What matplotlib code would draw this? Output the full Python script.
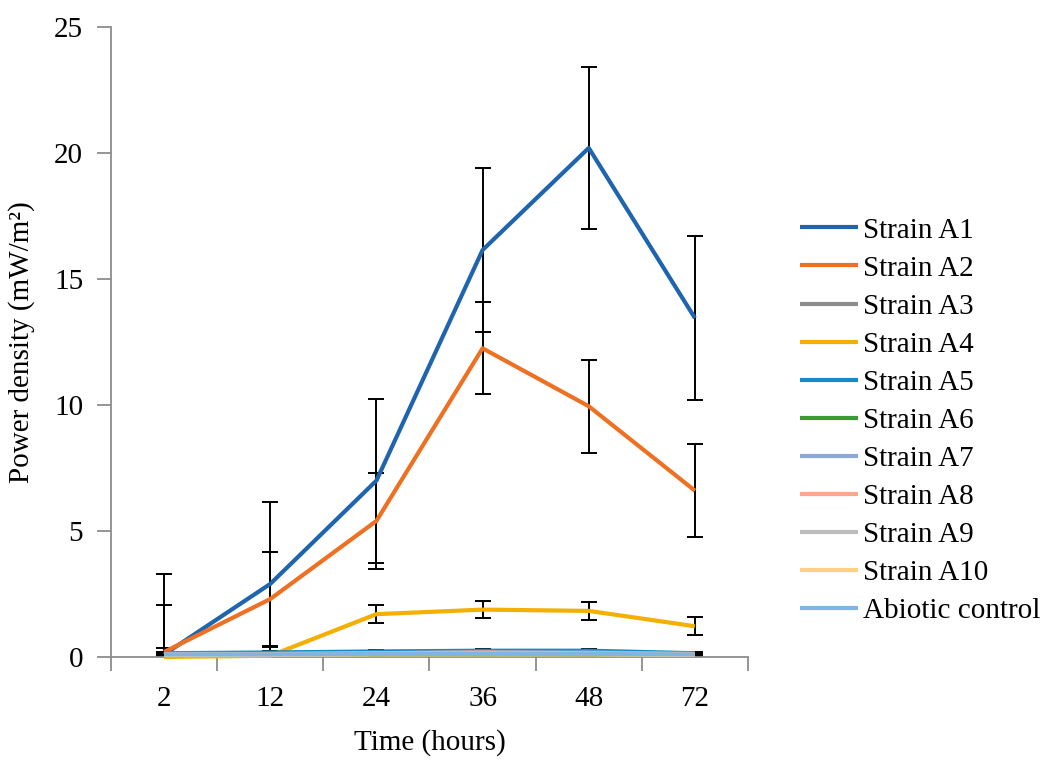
import matplotlib.pyplot as plt
import numpy as np

plt.rcParams['font.family'] = ['Liberation Serif', 'DejaVu Serif']

times = ["2", "12", "24", "36", "48", "72"]

strain_a1 = [0.10, 2.90, 7.00, 16.15, 20.20, 13.45]
strain_a1_err = [3.20, 3.25, 3.25, 3.25, 3.20, 3.25]
strain_a2 = [0.20, 2.30, 5.40, 12.25, 9.95, 6.60]
strain_a2_err = [1.85, 1.85, 1.90, 1.83, 1.85, 1.85]
strain_a3 = [0.15, 0.15, 0.15, 0.15, 0.15, 0.10]
strain_a4 = [0.00, 0.05, 1.70, 1.88, 1.83, 1.22]
strain_a4_err = [0.35, 0.35, 0.35, 0.33, 0.35, 0.35]
strain_a5 = [0.15, 0.18, 0.22, 0.25, 0.25, 0.15]
strain_a6 = [0.10, 0.10, 0.10, 0.10, 0.10, 0.08]
strain_a7 = [0.12, 0.12, 0.15, 0.18, 0.18, 0.12]
strain_a8 = [0.12, 0.12, 0.15, 0.18, 0.15, 0.12]
strain_a9 = [0.10, 0.10, 0.12, 0.12, 0.12, 0.10]
strain_a10 = [0.08, 0.08, 0.10, 0.10, 0.10, 0.08]
abiotic = [0.10, 0.10, 0.12, 0.12, 0.12, 0.10]
small_err = [0.06, 0.06, 0.06, 0.06, 0.06, 0.06]

series = [
    ("Strain A1", strain_a1, strain_a1_err, "#1F64AF"),
    ("Strain A2", strain_a2, strain_a2_err, "#EE7123"),
    ("Strain A3", strain_a3, small_err, "#8E8E8E"),
    ("Strain A4", strain_a4, strain_a4_err, "#F4AF00"),
    ("Strain A5", strain_a5, small_err, "#178BC8"),
    ("Strain A6", strain_a6, small_err, "#3A9B36"),
    ("Strain A7", strain_a7, small_err, "#8CA7D8"),
    ("Strain A8", strain_a8, small_err, "#FFA68A"),
    ("Strain A9", strain_a9, small_err, "#BDBDBD"),
    ("Strain A10", strain_a10, small_err, "#FFD283"),
    ("Abiotic control", abiotic, small_err, "#7FB5E3"),
]

FS = 21

fig = plt.figure(figsize=(10.61, 7.62), dpi=100)
ax = fig.add_axes([111 / 1061, 1 - 657 / 762, (748 - 111) / 1061, (657 - 27) / 762])

x = np.arange(len(times)) + 0.5
for name, vals, err, color in series:
    ax.errorbar(x, vals, yerr=err, fmt="none", ecolor="black", elinewidth=1.4,
                capsize=5.8, capthick=1.4, zorder=2, clip_on=True)
    ax.plot(x, vals, color=color, lw=3, label=name, zorder=3,
            solid_capstyle="butt", clip_on=False)

ax.set_xlim(0, len(times))
ax.set_ylim(0, 25)
ax.set_yticks([0, 5, 10, 15, 20, 25])
ax.set_xticks(x)
ax.set_xticklabels(times)
ax.set_xticks(np.arange(len(times) + 1), minor=True)
ax.tick_params(axis="x", which="major", length=0, labelsize=FS, pad=21)
ax.tick_params(axis="x", which="minor", length=10, color="#8C8C8C", width=1.3)
ax.tick_params(axis="y", length=10, color="#8C8C8C", width=1.3, labelsize=FS, pad=10)

for side in ["top", "right"]:
    ax.spines[side].set_visible(False)
for side in ["left", "bottom"]:
    ax.spines[side].set_color("#8C8C8C")
    ax.spines[side].set_linewidth(1.3)

ax.set_xlabel("Time (hours)", fontsize=FS, labelpad=12)
ax.set_ylabel("Power density (mW/m²)", fontsize=FS, labelpad=14)

ax.legend(loc="center left", bbox_to_anchor=(1.063, 0.375), frameon=False,
          fontsize=FS, handlelength=2.0, handletextpad=0.15, labelspacing=0.40,
          borderaxespad=0)

fig.savefig("out.png")
